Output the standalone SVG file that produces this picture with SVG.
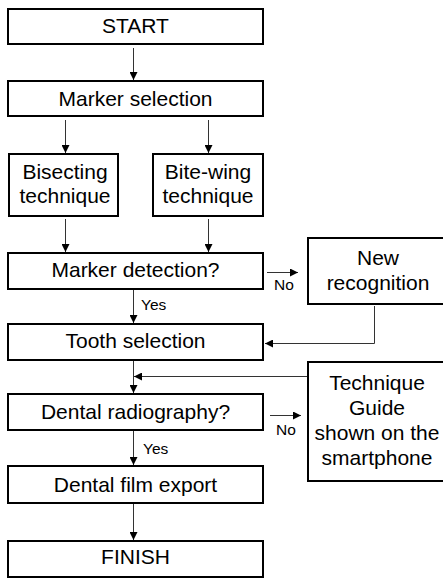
<svg xmlns="http://www.w3.org/2000/svg" width="443" height="579" viewBox="0 0 443 579">
  <style>
    .box { fill: #ffffff; stroke: #000000; stroke-width: 2; }
    .lbl { font-family: "Liberation Sans", Arial, sans-serif; font-size: 21px; fill: #000000; text-anchor: middle; }
    .cond { font-family: "Liberation Sans", Arial, sans-serif; font-size: 15.5px; fill: #000000; }
    .wire { fill: none; stroke: #333333; stroke-width: 1; marker-end: url(#arr); }
  </style>
  <defs>
    <marker id="arr" viewBox="0 0 10 10" refX="10" refY="5" markerWidth="8" markerHeight="8" orient="auto" markerUnits="userSpaceOnUse">
      <path d="M0,0 L10,5 L0,10 z" fill="#000000"/>
    </marker>
  </defs>
  <rect width="443" height="579" fill="#ffffff"/>

  <g id="connectors">
    <path class="wire" d="M133.5,48 V80"/>
    <path class="wire" d="M65.5,120 V153"/>
    <path class="wire" d="M208.5,120 V153"/>
    <path class="wire" d="M65.5,219 V252"/>
    <path class="wire" d="M208.5,219 V252"/>
    <path class="wire" d="M133.5,290 V323"/>
    <path class="wire" d="M267,272.5 H298"/>
    <path class="wire" d="M374.5,306 V343.5 H265"/>
    <path class="wire" d="M133.5,361 V393"/>
    <path class="wire" d="M307,376.5 H134"/>
    <path class="wire" d="M270,415.5 H301"/>
    <path class="wire" d="M133.5,431 V465"/>
    <path class="wire" d="M133.5,504 V540"/>
    <text class="cond" x="141" y="310">Yes</text>
    <text class="cond" x="274" y="290">No</text>
    <text class="cond" x="143" y="454">Yes</text>
    <text class="cond" x="276" y="435">No</text>
  </g>

  <g id="start">
    <rect class="box" x="8" y="9" width="255" height="35"/>
    <text class="lbl" x="135.5" y="33">START</text>
  </g>
  <g id="marker-selection">
    <rect class="box" x="8" y="81" width="255" height="35"/>
    <text class="lbl" x="135.5" y="106">Marker selection</text>
  </g>
  <g id="bisecting">
    <rect class="box" x="9" y="154" width="109" height="62"/>
    <text class="lbl" x="65" y="179">Bisecting</text>
    <text class="lbl" x="65" y="203">technique</text>
  </g>
  <g id="bite-wing">
    <rect class="box" x="153" y="154" width="110" height="62"/>
    <text class="lbl" x="208" y="179">Bite-wing</text>
    <text class="lbl" x="208" y="203">technique</text>
  </g>
  <g id="marker-detection">
    <rect class="box" x="8" y="253" width="255" height="36"/>
    <text class="lbl" x="135.5" y="277">Marker detection?</text>
  </g>
  <g id="new-recognition">
    <rect class="box" x="308" y="238" width="150" height="66"/>
    <text class="lbl" x="378" y="265">New</text>
    <text class="lbl" x="378" y="290">recognition</text>
  </g>
  <g id="tooth-selection">
    <rect class="box" x="8" y="324" width="255" height="36"/>
    <text class="lbl" x="135.5" y="348">Tooth selection</text>
  </g>
  <g id="technique-guide">
    <rect class="box" x="308" y="362" width="150" height="119"/>
    <text class="lbl" x="377" y="390">Technique</text>
    <text class="lbl" x="377" y="415">Guide</text>
    <text class="lbl" x="377" y="440">shown on the</text>
    <text class="lbl" x="377" y="465">smartphone</text>
  </g>
  <g id="dental-radiography">
    <rect class="box" x="8" y="394" width="255" height="36"/>
    <text class="lbl" x="135.5" y="419">Dental radiography?</text>
  </g>
  <g id="dental-film-export">
    <rect class="box" x="8" y="466" width="255" height="37"/>
    <text class="lbl" x="135.5" y="492">Dental film export</text>
  </g>
  <g id="finish">
    <rect class="box" x="8" y="541" width="255" height="36"/>
    <text class="lbl" x="135.5" y="564">FINISH</text>
  </g>
</svg>
